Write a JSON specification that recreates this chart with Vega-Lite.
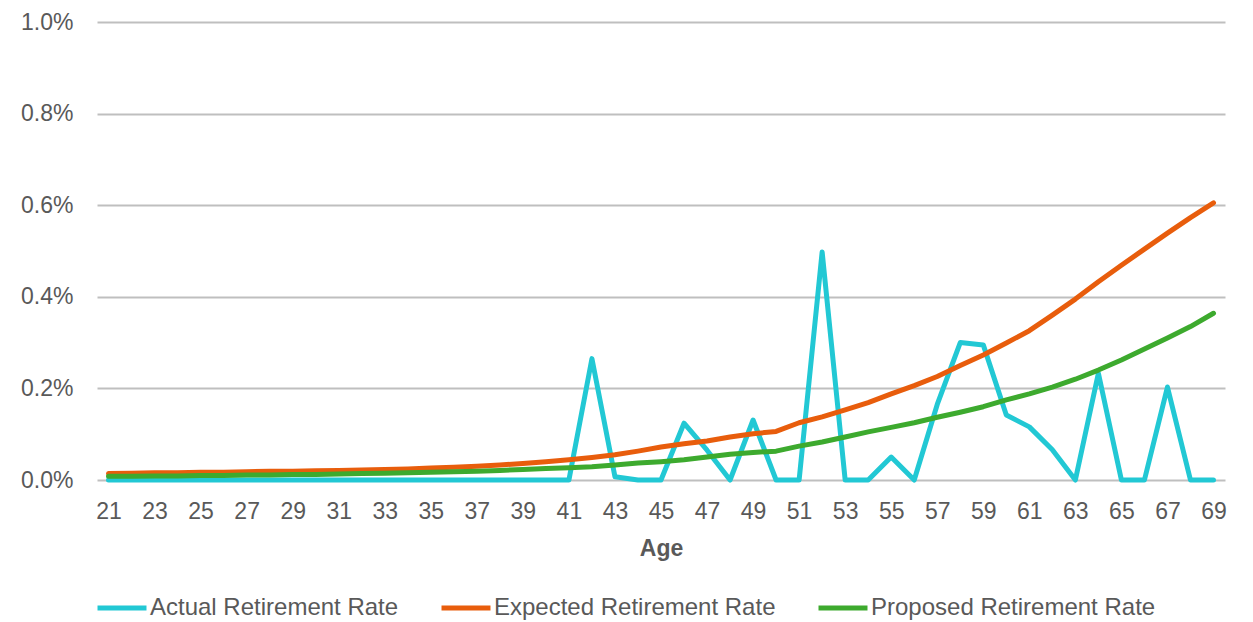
{
  "$schema": "https://vega.github.io/schema/vega-lite/v6.json",
  "autosize": "none",
  "width": 1128,
  "height": 458,
  "padding": {"left": 97, "top": 22, "right": 28, "bottom": 142},
  "background": "white",
  "config": {
    "view": {"stroke": null},
    "font": "Liberation Sans",
    "axis": {"labelColor": "#595959", "titleColor": "#595959", "labelFont": "Liberation Sans", "titleFont": "Liberation Sans"}
  },
  "data": {
    "values": [
      {"age": 21, "Actual Retirement Rate": 0, "Expected Retirement Rate": 0.014, "Proposed Retirement Rate": 0.008},
      {"age": 22, "Actual Retirement Rate": 0, "Expected Retirement Rate": 0.015, "Proposed Retirement Rate": 0.008},
      {"age": 23, "Actual Retirement Rate": 0, "Expected Retirement Rate": 0.016, "Proposed Retirement Rate": 0.009},
      {"age": 24, "Actual Retirement Rate": 0, "Expected Retirement Rate": 0.016, "Proposed Retirement Rate": 0.009},
      {"age": 25, "Actual Retirement Rate": 0, "Expected Retirement Rate": 0.017, "Proposed Retirement Rate": 0.010},
      {"age": 26, "Actual Retirement Rate": 0, "Expected Retirement Rate": 0.017, "Proposed Retirement Rate": 0.010},
      {"age": 27, "Actual Retirement Rate": 0, "Expected Retirement Rate": 0.018, "Proposed Retirement Rate": 0.011},
      {"age": 28, "Actual Retirement Rate": 0, "Expected Retirement Rate": 0.019, "Proposed Retirement Rate": 0.011},
      {"age": 29, "Actual Retirement Rate": 0, "Expected Retirement Rate": 0.019, "Proposed Retirement Rate": 0.012},
      {"age": 30, "Actual Retirement Rate": 0, "Expected Retirement Rate": 0.020, "Proposed Retirement Rate": 0.012},
      {"age": 31, "Actual Retirement Rate": 0, "Expected Retirement Rate": 0.021, "Proposed Retirement Rate": 0.013},
      {"age": 32, "Actual Retirement Rate": 0, "Expected Retirement Rate": 0.022, "Proposed Retirement Rate": 0.014},
      {"age": 33, "Actual Retirement Rate": 0, "Expected Retirement Rate": 0.023, "Proposed Retirement Rate": 0.015},
      {"age": 34, "Actual Retirement Rate": 0, "Expected Retirement Rate": 0.024, "Proposed Retirement Rate": 0.016},
      {"age": 35, "Actual Retirement Rate": 0, "Expected Retirement Rate": 0.026, "Proposed Retirement Rate": 0.017},
      {"age": 36, "Actual Retirement Rate": 0, "Expected Retirement Rate": 0.028, "Proposed Retirement Rate": 0.018},
      {"age": 37, "Actual Retirement Rate": 0, "Expected Retirement Rate": 0.030, "Proposed Retirement Rate": 0.019},
      {"age": 38, "Actual Retirement Rate": 0, "Expected Retirement Rate": 0.033, "Proposed Retirement Rate": 0.021},
      {"age": 39, "Actual Retirement Rate": 0, "Expected Retirement Rate": 0.036, "Proposed Retirement Rate": 0.023},
      {"age": 40, "Actual Retirement Rate": 0, "Expected Retirement Rate": 0.040, "Proposed Retirement Rate": 0.025},
      {"age": 41, "Actual Retirement Rate": 0, "Expected Retirement Rate": 0.044, "Proposed Retirement Rate": 0.027},
      {"age": 42, "Actual Retirement Rate": 0.265, "Expected Retirement Rate": 0.049, "Proposed Retirement Rate": 0.029},
      {"age": 43, "Actual Retirement Rate": 0.007, "Expected Retirement Rate": 0.055, "Proposed Retirement Rate": 0.033},
      {"age": 44, "Actual Retirement Rate": 0, "Expected Retirement Rate": 0.063, "Proposed Retirement Rate": 0.037},
      {"age": 45, "Actual Retirement Rate": 0, "Expected Retirement Rate": 0.072, "Proposed Retirement Rate": 0.040},
      {"age": 46, "Actual Retirement Rate": 0.124, "Expected Retirement Rate": 0.079, "Proposed Retirement Rate": 0.044},
      {"age": 47, "Actual Retirement Rate": 0.065, "Expected Retirement Rate": 0.085, "Proposed Retirement Rate": 0.050},
      {"age": 48, "Actual Retirement Rate": 0, "Expected Retirement Rate": 0.094, "Proposed Retirement Rate": 0.056},
      {"age": 49, "Actual Retirement Rate": 0.131, "Expected Retirement Rate": 0.101, "Proposed Retirement Rate": 0.060},
      {"age": 50, "Actual Retirement Rate": 0, "Expected Retirement Rate": 0.106, "Proposed Retirement Rate": 0.063},
      {"age": 51, "Actual Retirement Rate": 0, "Expected Retirement Rate": 0.125, "Proposed Retirement Rate": 0.074},
      {"age": 52, "Actual Retirement Rate": 0.498, "Expected Retirement Rate": 0.138, "Proposed Retirement Rate": 0.083},
      {"age": 53, "Actual Retirement Rate": 0, "Expected Retirement Rate": 0.153, "Proposed Retirement Rate": 0.094},
      {"age": 54, "Actual Retirement Rate": 0, "Expected Retirement Rate": 0.169, "Proposed Retirement Rate": 0.105},
      {"age": 55, "Actual Retirement Rate": 0.05, "Expected Retirement Rate": 0.188, "Proposed Retirement Rate": 0.115},
      {"age": 56, "Actual Retirement Rate": 0, "Expected Retirement Rate": 0.206, "Proposed Retirement Rate": 0.125},
      {"age": 57, "Actual Retirement Rate": 0.165, "Expected Retirement Rate": 0.226, "Proposed Retirement Rate": 0.137},
      {"age": 58, "Actual Retirement Rate": 0.30, "Expected Retirement Rate": 0.250, "Proposed Retirement Rate": 0.148},
      {"age": 59, "Actual Retirement Rate": 0.295, "Expected Retirement Rate": 0.273, "Proposed Retirement Rate": 0.160},
      {"age": 60, "Actual Retirement Rate": 0.142, "Expected Retirement Rate": 0.299, "Proposed Retirement Rate": 0.175},
      {"age": 61, "Actual Retirement Rate": 0.116, "Expected Retirement Rate": 0.326, "Proposed Retirement Rate": 0.188},
      {"age": 62, "Actual Retirement Rate": 0.066, "Expected Retirement Rate": 0.360, "Proposed Retirement Rate": 0.203},
      {"age": 63, "Actual Retirement Rate": 0, "Expected Retirement Rate": 0.395, "Proposed Retirement Rate": 0.220},
      {"age": 64, "Actual Retirement Rate": 0.233, "Expected Retirement Rate": 0.433, "Proposed Retirement Rate": 0.240},
      {"age": 65, "Actual Retirement Rate": 0, "Expected Retirement Rate": 0.469, "Proposed Retirement Rate": 0.262},
      {"age": 66, "Actual Retirement Rate": 0, "Expected Retirement Rate": 0.504, "Proposed Retirement Rate": 0.286},
      {"age": 67, "Actual Retirement Rate": 0.203, "Expected Retirement Rate": 0.539, "Proposed Retirement Rate": 0.310},
      {"age": 68, "Actual Retirement Rate": 0, "Expected Retirement Rate": 0.573, "Proposed Retirement Rate": 0.335},
      {"age": 69, "Actual Retirement Rate": 0, "Expected Retirement Rate": 0.605, "Proposed Retirement Rate": 0.364}
    ]
  },
  "transform": [
    {"fold": ["Actual Retirement Rate", "Expected Retirement Rate", "Proposed Retirement Rate"], "as": ["series", "rate"]}
  ],
  "mark": {"type": "line", "strokeWidth": 5, "strokeCap": "round", "strokeJoin": "round"},
  "encoding": {
    "x": {
      "field": "age",
      "type": "quantitative",
      "scale": {"domain": [20.5, 69.5], "nice": false, "zero": false},
      "axis": {
        "title": "Age",
        "titleFontSize": 23,
        "titleFontWeight": "bold",
        "titlePadding": 14,
        "labelFontSize": 23,
        "labelPadding": 20,
        "values": [21,23,25,27,29,31,33,35,37,39,41,43,45,47,49,51,53,55,57,59,61,63,65,67,69],
        "ticks": false,
        "domain": false,
        "grid": false,
        "labelFlush": false
      }
    },
    "y": {
      "field": "rate",
      "type": "quantitative",
      "scale": {"domain": [0, 1.0], "nice": false},
      "axis": {
        "title": null,
        "values": [0, 0.2, 0.4, 0.6, 0.8, 1.0],
        "labelExpr": "format(datum.value, '.1f') + '%'",
        "labelFontSize": 23,
        "labelPadding": 24,
        "ticks": false,
        "domain": false,
        "grid": true,
        "gridColor": "#BFBFBF",
        "gridWidth": 2
      }
    },
    "color": {
      "field": "series",
      "type": "nominal",
      "scale": {
        "domain": ["Actual Retirement Rate", "Expected Retirement Rate", "Proposed Retirement Rate"],
        "range": ["#22C8D4", "#E85D0C", "#3DAA2E"]
      },
      "legend": {
        "title": null,
        "orient": "none",
        "legendX": -2,
        "legendY": 559,
        "direction": "horizontal",
        "symbolType": "stroke",
        "symbolSize": 2400,
        "symbolStrokeWidth": 5,
        "labelFontSize": 24,
        "labelColor": "#595959",
        "labelFont": "Liberation Sans",
        "labelOffset": 1,
        "columnPadding": 32,
        "labelLimit": 400
      }
    }
  }
}
